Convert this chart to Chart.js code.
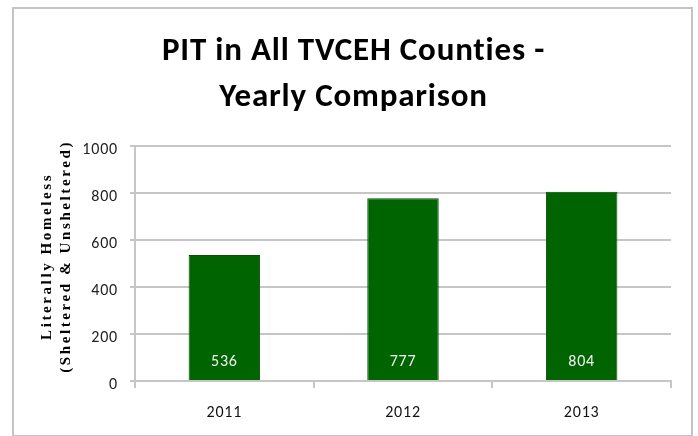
<!DOCTYPE html>
<html>
<head>
<meta charset="utf-8">
<script src="https://cdn.jsdelivr.net/npm/chart.js"></script>
<style>
  body { margin: 0; background: #fff; }
  #wrap { width: 698px; height: 436px; }
</style>
</head>
<body>
<div id="wrap"><canvas id="chart" width="698" height="436"></canvas></div>
<script>
const years = ['2011', '2012', '2013'];
const homeless = [536, 777, 804];
const yTicks = [0, 200, 400, 600, 800, 1000];
const titleLines = ['PIT in All TVCEH Counties -', 'Yearly Comparison'];
const yTitleLines = ['Literally Homeless', '(Sheltered & Unsheltered)'];

const GRID = '#c6c6c6';
const SANS = 'Carlito, Lato, "Noto Sans", sans-serif';

// frame + white background; a little tracking for all the text after it
const framePlugin = {
  id: 'frame',
  beforeDraw(chart) {
    const ctx = chart.ctx;
    ctx.save();
    ctx.fillStyle = '#fff';
    ctx.fillRect(0, 0, chart.width, chart.height);
    ctx.strokeStyle = '#c4c4c4';
    ctx.lineWidth = 2;
    ctx.strokeRect(13, 8, 679, 428);
    ctx.restore();
    ctx.letterSpacing = '0.8px';
  }
};

// values written inside the bars near the base
const barLabels = {
  id: 'barLabels',
  afterDatasetsDraw(chart) {
    const ctx = chart.ctx;
    const meta = chart.getDatasetMeta(0);
    const base = chart.scales.y.getPixelForValue(0);
    ctx.save();
    ctx.fillStyle = '#f2f2f2';
    ctx.font = '16px ' + SANS;
    ctx.textAlign = 'center';
    ctx.textBaseline = 'middle';
    meta.data.forEach((bar, i) => {
      ctx.fillText(String(homeless[i]), bar.x, base - 19);
    });
    ctx.restore();
  }
};

// rotated serif axis title with the wide letter spacing of the original
const yTitle = {
  id: 'yTitle',
  afterDraw(chart) {
    const ctx = chart.ctx;
    const area = chart.chartArea;
    const cy = (area.top + area.bottom) / 2 - 7;
    ctx.save();
    ctx.fillStyle = '#000';
    ctx.font = 'bold 15px "Liberation Serif", "DejaVu Serif", serif';
    ctx.letterSpacing = '2.6px';
    ctx.textAlign = 'center';
    ctx.textBaseline = 'middle';
    const xs = [47, 66];
    yTitleLines.forEach((line, i) => {
      ctx.save();
      ctx.translate(xs[i], cy);
      ctx.rotate(-Math.PI / 2);
      ctx.fillText(line, 0, 0);
      ctx.restore();
    });
    ctx.restore();
  }
};

new Chart(document.getElementById('chart'), {
  type: 'bar',
  data: {
    labels: years,
    datasets: [{
      data: homeless,
      backgroundColor: '#006400',
      borderColor: '#0b4d0b',
      borderWidth: 1,
      barPercentage: 0.8,
      categoryPercentage: 0.5
    }]
  },
  options: {
    responsive: false,
    animation: false,
    layout: { padding: { left: 36, right: 27, top: 8, bottom: 0 } },
    plugins: {
      legend: { display: false },
      tooltip: { enabled: false },
      title: {
        display: true,
        text: titleLines,
        color: '#000',
        font: { family: SANS, size: 33, weight: 'bold', lineHeight: 1.39 },
        padding: { top: 21, bottom: 25 }
      }
    },
    scales: {
      x: {
        grid: { offset: true, drawOnChartArea: false, drawTicks: true, tickLength: 7, color: GRID, lineWidth: 2 },
        border: { display: true, color: GRID, width: 2 },
        ticks: { color: '#111', font: { family: SANS, size: 16 }, padding: 15 },
        afterFit(scale) { scale.height = 55; }
      },
      y: {
        min: 0,
        max: 1000,
        afterBuildTicks(scale) { scale.ticks = yTicks.map(v => ({ value: v })); },
        grid: { color: GRID, lineWidth: 2, drawTicks: true, tickLength: 5 },
        border: { display: true, color: GRID, width: 2 },
        ticks: {
          color: '#222',
          font: { family: SANS, size: 16 },
          padding: 12,
          labelOffset: 4,
          callback: v => String(v)
        },
        afterFit(scale) { scale.width = 99; }
      }
    }
  },
  plugins: [framePlugin, barLabels, yTitle]
});
</script>
</body>
</html>
